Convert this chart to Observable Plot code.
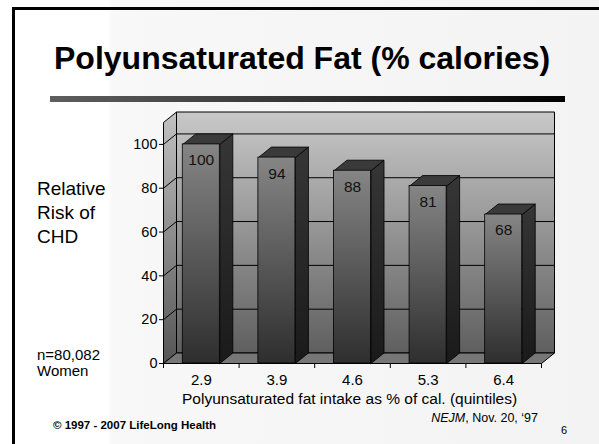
<!DOCTYPE html>
<html>
<head>
<meta charset="utf-8">
<script src="https://cdn.jsdelivr.net/npm/d3@7"></script>
<script src="https://cdn.jsdelivr.net/npm/@observablehq/plot@0.6"></script>
<style>
  html, body { margin: 0; padding: 0; width: 599px; height: 444px; overflow: hidden; }
  #slide {
    position: relative; width: 599px; height: 444px; overflow: hidden;
    background: linear-gradient(to right, #ffffff 0px, #ffffff 108px, #f8f8f8 112px, #f3f3f3 599px);
    font-family: "Liberation Sans", Arial, sans-serif; color: #000;
  }
  #frame { position: absolute; left: 12px; top: 7px; width: 600px; height: 450px;
    border-top: 3px solid #000; border-left: 3px solid #000; }
  .t { position: absolute; white-space: nowrap; line-height: 1; }
  #chart { position: absolute; left: 0; top: 0; }
  #rule { position: absolute; left: 50px; top: 96px; width: 515px; height: 6px;
    background: linear-gradient(to right, #5e5e5e, #2a2a2a 60%, #000); }
</style>
</head>
<body>
<div id="slide">
  <div id="frame"></div>
  <div id="chart"></div>
  <div id="rule"></div>
  <div class="t" id="title" style="left:54px; top:42px; font-size:32px; font-weight:bold;"></div>
  <div class="t" id="ylab" style="left:37px; top:177px; font-size:19px; line-height:24px;"></div>
  <div class="t" id="note" style="left:37px; top:347px; font-size:15px; line-height:16px;"></div>
  <div class="t" id="xlab" style="left:182px; top:391px; font-size:15.5px;"></div>
  <div class="t" id="copy" style="left:53px; top:420px; font-size:11.5px; font-weight:bold;"></div>
  <div class="t" id="src" style="right:61px; top:412px; font-size:12.5px;"></div>
  <div class="t" id="page" style="left:561px; top:425px; font-size:11px;"></div>
</div>
<script>
// ---- data ----
const categories = ["2.9", "3.9", "4.6", "5.3", "6.4"];
const values = [100, 94, 88, 81, 68];
const yTicks = [0, 20, 40, 60, 80, 100];
const yMax = 110;
const titleText = "Polyunsaturated Fat (% calories)";
const yLabelLines = ["Relative", "Risk of", "CHD"];
const noteLines = ["n=80,082", "Women"];
const xLabelText = "Polyunsaturated fat intake as % of cal. (quintiles)";
const copyText = "\u00A9 1997 - 2007 LifeLong Health";
const sourceJournal = "NEJM";
const sourceRest = ", Nov. 20, \u201897";
const pageNumber = "6";

// ---- texts ----
document.getElementById("title").textContent = titleText;
document.getElementById("ylab").innerHTML = yLabelLines.join("<br>");
document.getElementById("note").innerHTML = noteLines.join("<br>");
document.getElementById("xlab").textContent = xLabelText;
document.getElementById("copy").textContent = copyText;
document.getElementById("src").innerHTML = "<i>" + sourceJournal + "</i>" + sourceRest;
document.getElementById("page").textContent = pageNumber;

// ---- layout ----
const W = 599, H = 444;
const mL = 163, mR = 58, mT = 122, mB = 81;
const plotW = W - mL - mR, plotH = H - mT - mB;
const x0 = 0.5, x1 = categories.length + 0.5;
const depthPx = [13, 10.5];
const dxu = depthPx[0] * (x1 - x0) / plotW;
const dyu = depthPx[1] * yMax / plotH;
const hw = 0.245;

function poly(id, pts) { return pts.map(([x, y]) => ({id, x, y})); }

const backWall = poly("back", [[x0 + dxu, dyu], [x1 + dxu, dyu], [x1 + dxu, yMax + dyu], [x0 + dxu, yMax + dyu], [x0 + dxu, dyu]]);
const leftWall = poly("left", [[x0, 0], [x0, yMax], [x0 + dxu, yMax + dyu], [x0 + dxu, dyu], [x0, 0]]);
const floor = poly("floor", [[x0, 0], [x1, 0], [x1 + dxu, dyu], [x0 + dxu, dyu], [x0, 0]]);
const grid = yTicks.filter(v => v > 0).flatMap(v => poly("g" + v, [[x0, v], [x0 + dxu, v + dyu], [x1 + dxu, v + dyu]]));

const bars = values.map((v, i) => ({i, v, xc: i + 1, xL: i + 1 - hw, xR: i + 1 + hw}));
const sides = bars.flatMap(b => poly("s" + b.i, [[b.xR, 0], [b.xR, b.v], [b.xR + dxu, b.v + dyu], [b.xR + dxu, dyu], [b.xR, 0]]));
const tops = bars.flatMap(b => poly("t" + b.i, [[b.xL, b.v], [b.xR, b.v], [b.xR + dxu, b.v + dyu], [b.xL + dxu, b.v + dyu], [b.xL, b.v]]));

const chart = Plot.plot({
  width: W, height: H,
  marginLeft: mL, marginRight: mR, marginTop: mT, marginBottom: mB,
  style: {background: "transparent", fontFamily: "Liberation Sans, Arial, sans-serif", fontSize: "14.5px", color: "#000", overflow: "visible"},
  x: {type: "linear", domain: [x0, x1], ticks: d3.range(x0, x1 + 0.01, 1), tickFormat: () => "", tickSize: 5, label: null},
  y: {domain: [0, yMax], ticks: yTicks, tickSize: 4, tickPadding: 2, label: null},
  marks: [
    Plot.line(backWall, {x: "x", y: "y", z: "id", fill: "url(#gBack)", stroke: "#000", strokeWidth: 1}),
    Plot.line(leftWall, {x: "x", y: "y", z: "id", fill: "url(#gLeft)", stroke: "#000", strokeWidth: 1}),
    Plot.line(floor, {x: "x", y: "y", z: "id", fill: "#777777", stroke: "#000", strokeWidth: 1}),
    Plot.line(grid, {x: "x", y: "y", z: "id", stroke: "#000", strokeWidth: 1}),
    Plot.line(sides, {x: "x", y: "y", z: "id", fill: "url(#gSide)", stroke: "#000", strokeWidth: 0.8}),
    Plot.line(tops, {x: "x", y: "y", z: "id", fill: "#3a3a3a", stroke: "#000", strokeWidth: 0.8}),
    Plot.rect(bars, {x1: "xL", x2: "xR", y1: 0, y2: "v", fill: "url(#gFront)", stroke: "#000", strokeWidth: 0.8}),
    Plot.text(bars, {x: "xc", y: "v", text: d => String(d.v), dy: 16, fontSize: 15.5, fill: "#111"}),
    Plot.text(categories, {x: (d, i) => i + 1, y: 0, text: d => d, dy: 17, fontSize: 15, fill: "#000"})
  ]
});

// gradients
const defs = `
<defs>
  <linearGradient id="gBack" x1="0" y1="0" x2="0" y2="1">
    <stop offset="0" stop-color="#c8c8c8"/><stop offset="1" stop-color="#5f5f5f"/>
  </linearGradient>
  <linearGradient id="gLeft" x1="0" y1="0" x2="0" y2="1">
    <stop offset="0" stop-color="#c2c2c2"/><stop offset="1" stop-color="#555555"/>
  </linearGradient>
  <linearGradient id="gFront" x1="0" y1="0" x2="0" y2="1">
    <stop offset="0" stop-color="#858585"/><stop offset="1" stop-color="#2e2e2e"/>
  </linearGradient>
  <linearGradient id="gSide" x1="0" y1="0" x2="0" y2="1">
    <stop offset="0" stop-color="#363636"/><stop offset="1" stop-color="#1a1a1a"/>
  </linearGradient>
</defs>`;
chart.insertAdjacentHTML("afterbegin", defs);
document.getElementById("chart").appendChild(chart);
</script>
</body>
</html>
